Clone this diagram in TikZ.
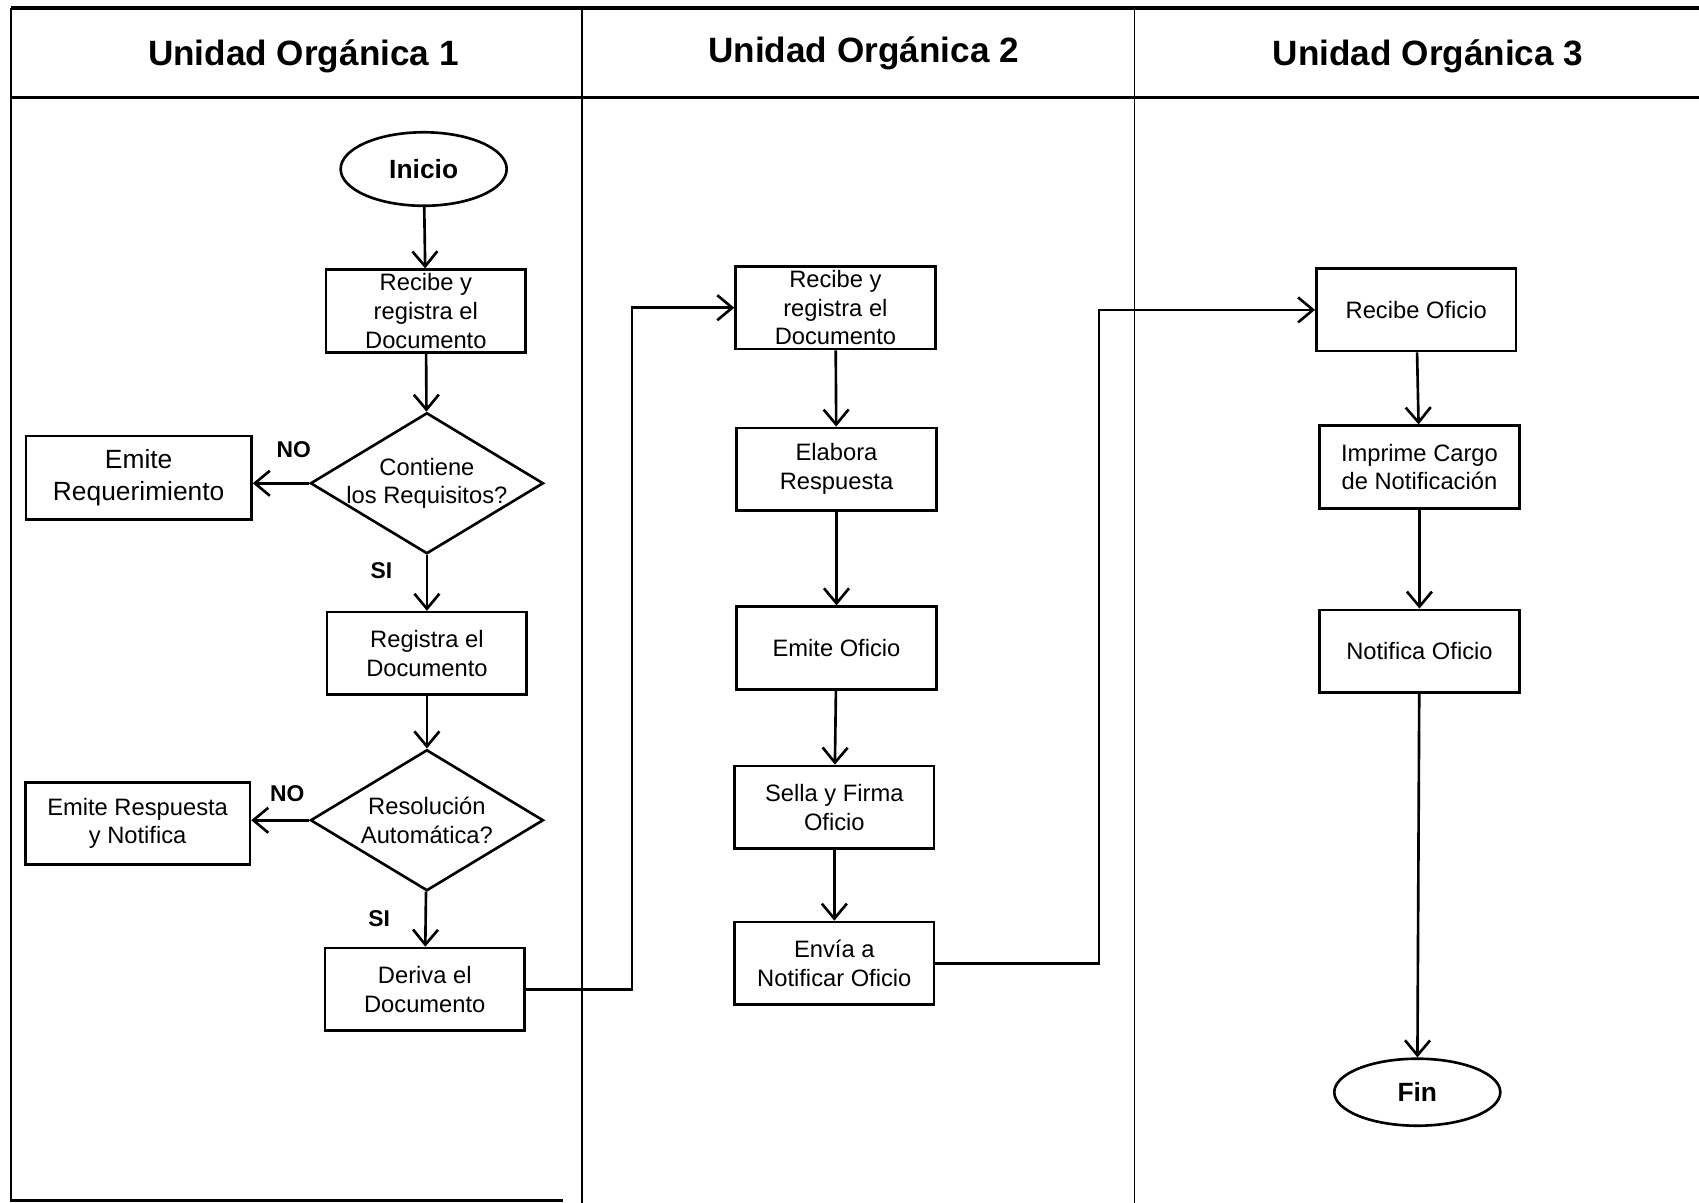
\documentclass[tikz,border=0pt]{standalone}
\usepackage{fontspec}
\setmainfont{Liberation Sans}
\usetikzlibrary{shapes.geometric,arrows.meta}

\begin{document}
\begin{tikzpicture}[x=0.02167cm,y=-0.02167cm,
  proc/.style={rectangle,draw=black,line width=1.5pt,minimum width=3.99cm,minimum height=1.65cm,
    inner sep=1pt,align=center,font=\fontsize{13.5}{16.3}\selectfont},
  decision/.style={diamond,draw=black,line width=1.5pt,aspect=1.654,minimum width=4.66cm,minimum height=2.82cm,
    inner xsep=-0.3cm,inner ysep=0pt,align=center,font=\fontsize{13.5}{16.3}\selectfont},
  term/.style={ellipse,draw=black,line width=1.5pt,minimum width=3.32cm,minimum height=1.47cm,
    inner sep=0pt,font=\fontsize{15}{18}\selectfont\bfseries},
  lbl/.style={font=\fontsize{13}{15}\selectfont\bfseries},
  title/.style={font=\fontsize{20}{24}\selectfont\bfseries},
  flow/.style={line width=1.5pt,-{Straight Barb[length=0.3cm,width=0.5cm,line width=1.5pt]}}]
\useasboundingbox (0,0) rectangle (1568,1110);
% \draw[help lines] (0,0) grid (1568,1110);
% frame and lanes
\draw[line width=2.2pt] (10,7) -- (1568,7);
\draw[line width=2.2pt] (10,90) -- (1568,90);
\draw[line width=1.5pt] (10,7) -- (10,1108) -- (520,1108);
\draw[line width=1pt] (537,7) -- (537,1110);
\draw[line width=1pt] (1047,7) -- (1047,1110);
\node[title] (t1) at (280,52) {Unidad Orgánica 1};
\node[title] (t2) at (797,49) {Unidad Orgánica 2};
\node[title] (t3) at (1318,52) {Unidad Orgánica 3};
%
\node[term] (inicio) at (391,156) {Inicio};
\node[proc] (rec1) at (393,287) {Recibe y\\registra el\\Documento};
\node[decision] (req) at (394,446) {Contiene\\los Requisitos?};
\node[proc,minimum width=4.51cm,minimum height=1.67cm,font=\fontsize{15}{18.5}\selectfont] (emreq) at (128,441) {Emite\\Requerimiento};
\node[proc] (regdoc) at (394,603) {Registra el\\Documento};
\node[decision] (auto) at (394,757) {Resolución\\Automática?};
\node[proc,minimum width=4.49cm] (emresp) at (127,760) {Emite Respuesta\\y Notifica};
\node[proc] (deriva) at (392,913) {Deriva el\\Documento};
\node[lbl] (no1) at (271,415) {NO};
\node[lbl] (si1) at (352,527) {SI};
\node[lbl] (no2) at (265,732) {NO};
\node[lbl] (si2) at (350,848) {SI};
%
\node[proc] (rec2) at (771,284) {Recibe y\\registra el\\Documento};
\node[proc] (elab) at (772,433) {Elabora\\Respuesta};
\node[proc] (emof) at (772,598) {Emite Oficio};
\node[proc] (sella) at (770,745) {Sella y Firma\\Oficio};
\node[proc] (envia) at (770,889) {Envía a\\Notificar Oficio};
%
\node[proc] (recof) at (1307,286) {Recibe Oficio};
\node[proc] (impr) at (1310,431) {Imprime Cargo\\de Notificación};
\node[proc] (notif) at (1310,601) {Notifica Oficio};
\node[term,minimum height=1.34cm] (fin) at (1308,1008) {Fin};
%
\draw[flow] (inicio) -- (rec1);
\draw[flow] (rec1) -- (req);
\draw[flow] (req.west) -- (req.west -| emreq.east);
\draw[flow] (req) -- (regdoc);
\draw[flow] (regdoc) -- (auto);
\draw[flow] (auto.west) -- (auto.west -| emresp.east);
\draw[flow] (auto) -- (deriva);
\draw[flow] (deriva.east) -- ++(98,0) |- (rec2.west);
\draw[flow] (rec2) -- (elab);
\draw[flow] (elab) -- (emof);
\draw[flow] (emof) -- (sella);
\draw[flow] (sella) -- (envia);
\draw[flow] (envia.east) -- ++(151,0) |- (recof.west);
\draw[flow] (recof) -- (impr);
\draw[flow] (impr) -- (notif);
\draw[flow] (notif) -- (fin);
\end{tikzpicture}
\end{document}
